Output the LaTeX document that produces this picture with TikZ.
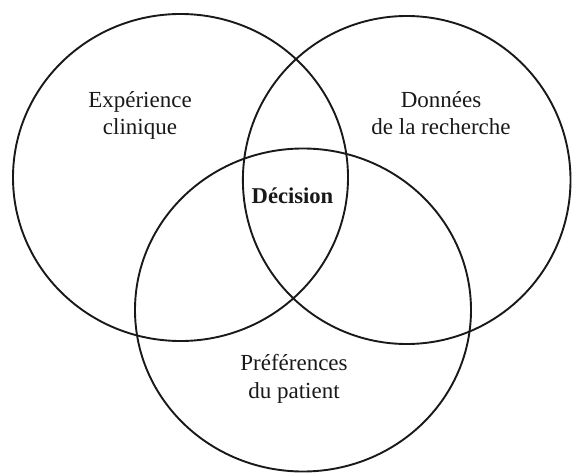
\documentclass[tikz,border=0pt]{standalone}
\usepackage{fontspec}
\setmainfont{Liberation Serif}
\begin{document}
\begin{tikzpicture}[x=1pt,y=-1pt,
  ring/.style={draw=black!90,line width=1.9pt},
  lbl/.style={font=\fontsize{23}{27.5}\selectfont,align=center,inner sep=0pt,anchor=base,text=black!90},
  ctr/.style={font=\fontsize{22.6}{27}\selectfont\bfseries,inner sep=0pt,anchor=base,text=black!90}]
\useasboundingbox (0,0) rectangle (572,473);
\draw[ring] (180.5,177.5) ellipse [x radius=167.5, y radius=163.5];
\draw[ring] (406.7,180) ellipse [x radius=163.8, y radius=164];
\draw[ring] (303,310) ellipse [x radius=168, y radius=161.5];
\node[lbl] (exp) at (140,135) {Expérience\\clinique};
\node[lbl] (don) at (441,135) {Données\\de la recherche};
\node[lbl] (pref) at (294,398) {Préférences\\du patient};
\node[ctr] (dec) at (292.5,203.3) {Décision};
\end{tikzpicture}
\end{document}
